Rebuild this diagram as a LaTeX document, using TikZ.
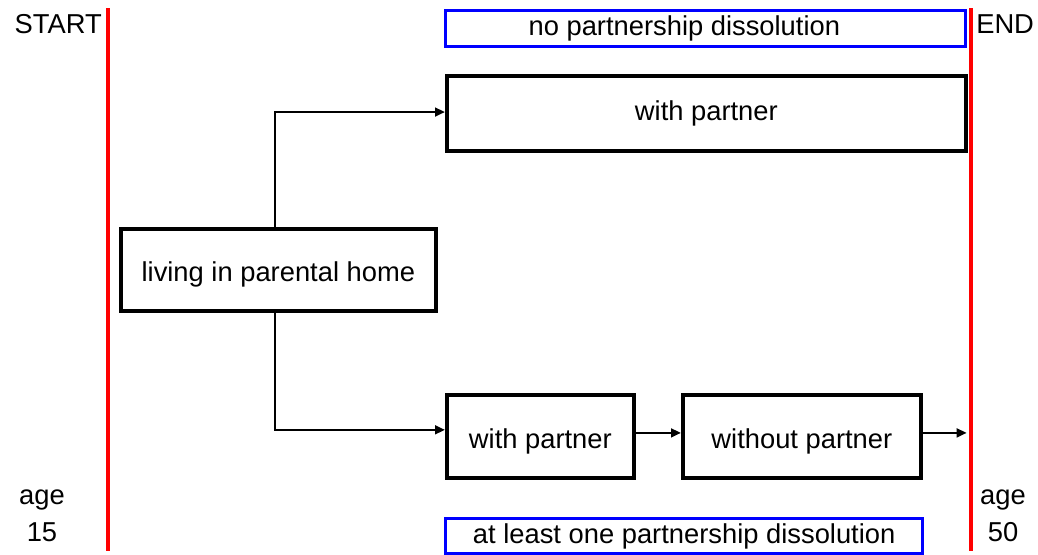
\documentclass[tikz,border=0pt]{standalone}
\usepackage{fontspec}
\setmainfont{Liberation Sans}
\usetikzlibrary{arrows.meta}
\begin{document}
\begin{tikzpicture}[x=0.75pt,y=-0.75pt,
  every node/.style={font=\fontsize{20.5}{24}\selectfont},
  statebox/.style={draw=black,line width=2.8pt,fill=white,inner sep=0pt,anchor=north west},
  bluebox/.style={draw=blue,line width=2.5pt,inner sep=0pt,anchor=north west},
  redline/.style={draw=red,line width=2.5pt},
  conn/.style={draw=black,line width=1.8pt,-{Triangle[length=7.5pt,width=6.5pt]}},
  lbl/.style={inner sep=0pt}]
\useasboundingbox (0,0) rectangle (1038,554);
% timeline lines
\coordinate (ls) at (108,8); \coordinate (le) at (108,551);
\coordinate (rs) at (971,8); \coordinate (re) at (971,551);
\draw[redline] (ls) -- (le);
\draw[redline] (rs) -- (re);
\node[lbl,anchor=east] (start) at (102,24) {START};
\node[lbl,anchor=west] (end) at (976,24) {END};
\node[lbl,align=center] (age15) at (42,516) {age\\[4pt]15};
\node[lbl,align=center] (age50) at (1003,516) {age\\[4pt]50};
% blue boxes
\node[bluebox,minimum width=390pt,minimum height=27pt] (nodiss) at (444,9) {};
\node[lbl,xshift=-16pt] at (nodiss.center) {no partnership dissolution};
\node[bluebox,minimum width=357.75pt,minimum height=26.25pt] (diss) at (444,517) {};
\node[lbl] at (diss.center) {at least one partnership dissolution};
% state boxes
\node[statebox,minimum width=236.25pt,minimum height=61.5pt] (home) at (119,227) {};
\node[lbl,yshift=-3.5pt] at (home.center) {living in parental home};
\node[statebox,minimum width=389.25pt,minimum height=56.25pt] (wp1) at (445,74) {};
\node[lbl] at (wp1.center) {with partner};
\node[statebox,minimum width=140.25pt,minimum height=62.25pt] (wp2) at (445,393) {};
\node[lbl,yshift=-4pt] at (wp2.center) {with partner};
\node[statebox,minimum width=178.5pt,minimum height=62.25pt] (wop) at (681,393) {};
\node[lbl,yshift=-4pt] at (wop.center) {without partner};
\path ([yshift=2.6pt]wop.east) ++(44,0) coordinate (out);
% connectors
\draw[conn] (home.north -| 275,0) |- ([yshift=1pt]wp1.west);
\draw[conn] (home.south -| 275,0) |- ([yshift=4.9pt]wp2.west);
\draw[conn] ([yshift=2.6pt]wp2.east) -- ([yshift=2.6pt]wop.west);
\draw[conn] ([yshift=2.6pt]wop.east) -- (out);
\end{tikzpicture}
\end{document}
